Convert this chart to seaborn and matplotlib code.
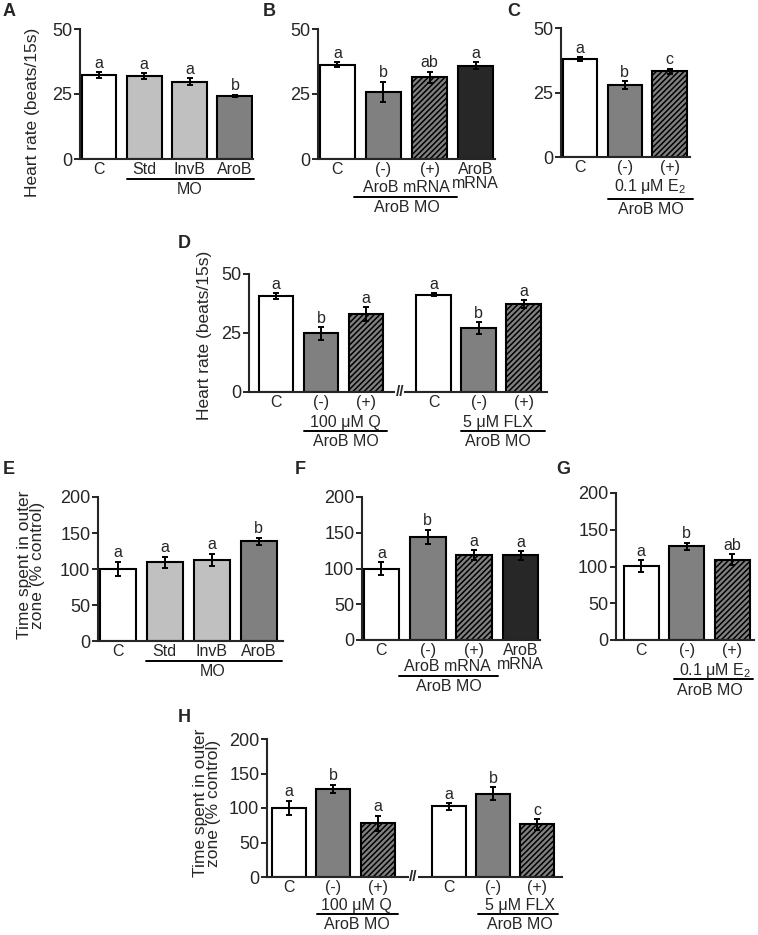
import numpy as np
import pandas as pd
import matplotlib
matplotlib.use('Agg')
import matplotlib.pyplot as plt
import seaborn as sns

sns.set_style('ticks')
plt.rcParams['font.family'] = ['Liberation Sans', 'DejaVu Sans']
plt.rcParams['mathtext.fontset'] = 'custom'
plt.rcParams['mathtext.rm'] = 'Liberation Sans'
plt.rcParams['mathtext.it'] = 'Liberation Sans:italic'
plt.rcParams['hatch.linewidth'] = 1.1
plt.rcParams['hatch.color'] = 'black'

# ---- data ----
a_labels = ['C', 'Std', 'InvB', 'AroB']
a_vals = [32.3, 31.8, 29.8, 24.3]
a_err = [1.2, 1.2, 1.3, 0.5]
a_sig = ['a', 'a', 'a', 'b']

b_labels = ['C', '(-)', '(+)', 'AroB\nmRNA']
b_vals = [36.2, 25.8, 31.4, 35.9]
b_err = [1.0, 4.0, 2.2, 1.3]
b_sig = ['a', 'b', 'ab', 'a']

c_labels = ['C', '(-)', '(+)']
c_vals = [38.1, 27.8, 33.3]
c_err = [0.7, 1.6, 1.0]
c_sig = ['a', 'b', 'c']

d_labels = ['C', '(-)', '(+)', 'C', '(-)', '(+)']
d_vals = [40.6, 24.8, 33.1, 41.3, 27.0, 37.1]
d_err = [1.2, 2.6, 3.0, 0.6, 2.5, 1.7]
d_sig = ['a', 'b', 'a', 'a', 'b', 'a']

e_labels = ['C', 'Std', 'InvB', 'AroB']
e_vals = [100, 109.3, 112.5, 138.6]
e_err = [10, 8, 9, 5]
e_sig = ['a', 'a', 'a', 'b']

f_labels = ['C', '(-)', '(+)', 'AroB\nmRNA']
f_vals = [100, 144.5, 118.5, 118.5]
f_err = [9, 10, 7, 6]
f_sig = ['a', 'b', 'a', 'a']

g_labels = ['C', '(-)', '(+)']
g_vals = [100.5, 127.5, 109.5]
g_err = [8, 5, 7]
g_sig = ['a', 'b', 'ab']

h_labels = ['C', '(-)', '(+)', 'C', '(-)', '(+)']
h_vals = [100.5, 127.7, 77.7, 102.4, 120.9, 76.2]
h_err = [10, 6, 11, 5, 9, 8]
h_sig = ['a', 'b', 'a', 'a', 'b', 'c']

# ---- styles ----
STYLE = {'w': ('#ffffff', ''), 'l': ('#c0c0c0', ''), 'm': ('#808080', ''),
         'k': ('#272727', ''), 'h': ('#808080', '//////')}
FS = 11.5

W, H = 758, 935
fig = plt.figure(figsize=(W / 100, H / 100), dpi=100)


def panel(box, xpos, labels, vals, errs, sig, kinds, ymax, ystep, xlim):
    l, r, t, b = box
    ax = fig.add_axes([l / W, 1 - b / H, (r - l) / W, (b - t) / H])
    df = pd.DataFrame({'x': xpos, 'y': vals, 'k': [str(i) for i in range(len(vals))]})
    pal = {str(i): STYLE[k][0] for i, k in enumerate(kinds)}
    sns.barplot(data=df, x='x', y='y', hue='k', palette=pal, native_scale=True,
                dodge=False, width=0.77, errorbar=None, saturation=1,
                edgecolor='black', linewidth=1.5, legend=False, ax=ax)
    for p, k in zip(ax.patches, kinds):
        p.set_hatch(STYLE[k][1])
    ax.errorbar(xpos, vals, yerr=errs, fmt='none', ecolor='black',
                elinewidth=1.4, capsize=2, capthick=1.4, zorder=5)
    for x, v, e, s in zip(xpos, vals, errs, sig):
        ax.text(x, v + e + ymax * 0.01, s, ha='center', va='bottom', fontsize=FS)
    ax.set_ylim(0, ymax)
    ax.set_yticks(np.arange(0, ymax + 1, ystep))
    ax.set_xlim(*xlim)
    ax.set_xticks(xpos)
    ax.set_xticklabels(labels, linespacing=0.95)
    ax.set_xlabel('')
    ax.set_ylabel('')
    sns.despine(ax=ax)
    for sp in ['left', 'bottom']:
        ax.spines[sp].set_linewidth(1.5)
    ax.tick_params(axis='y', length=4, width=1.4, labelsize=13, pad=1.5)
    ax.tick_params(axis='x', length=0, labelsize=FS, pad=2)
    return ax, box


def yfrac(box, ypx):
    return (box[3] - ypx) / (box[3] - box[2])


def group(axb, texts, lines):
    ax, box = axb
    tr = ax.get_xaxis_transform()
    for x, y, s in texts:
        ax.text(x, yfrac(box, y + 1.5), s, transform=tr, ha='center', va='center', fontsize=FS)
    for x0, x1, y in lines:
        ax.plot([x0, x1], [yfrac(box, y)] * 2, transform=tr, color='black',
                lw=1.4, clip_on=False)


def brk(axb, x):
    ax, box = axb
    ax.text(x, 0, '//', transform=ax.get_xaxis_transform(), ha='center', va='center',
            fontsize=11, fontweight='bold', zorder=10, clip_on=False,
            bbox=dict(facecolor='white', edgecolor='none', pad=0.2))


x3 = [0, 1, 2]
x4 = [0, 1, 2, 3]
xd = [0, 1, 2, 3.5, 4.5, 5.5]
xh = [0, 1, 2, 3.6, 4.6, 5.6]

pa = panel((80, 253, 29, 159), x4, a_labels, a_vals, a_err, a_sig, 'wllm', 50, 25, (-0.42, 3.4))
group(pa, [(2.0, 188, 'MO')], [(0.62, 3.42, 179)])

pb = panel((318, 495, 29, 159), x4, b_labels, b_vals, b_err, b_sig, 'wmhk', 50, 25, (-0.42, 3.42))
group(pb, [(1.5, 186, 'AroB mRNA'), (1.5, 206, 'AroB MO')], [(0.36, 2.6, 197)])

pc = panel((561, 690, 28, 157), x3, c_labels, c_vals, c_err, c_sig, 'wmh', 50, 25, (-0.42, 2.45))
group(pc, [(1.57, 185, '0.1 μM E$_2$'), (1.57, 208, 'AroB MO')], [(0.63, 2.52, 199)])

pd_ = panel((249, 547, 274, 392), xd, d_labels, d_vals, d_err, d_sig, 'wmhwmh', 50, 25, (-0.6, 6.02))
group(pd_, [(1.55, 421, '100 μM Q'), (1.55, 440, 'AroB MO'),
            (4.93, 421, '5 μM FLX'), (4.93, 440, 'AroB MO')],
      [(0.63, 2.47, 431), (4.11, 5.98, 431)])
brk(pd_, 2.75)

pe = panel((98, 283, 497, 641), x4, e_labels, e_vals, e_err, e_sig, 'wllm', 200, 50, (-0.42, 3.52))
group(pe, [(2.03, 670, 'MO')], [(0.61, 3.5, 661)])

pf = panel((362, 540, 497, 640), x4, f_labels, f_vals, f_err, f_sig, 'wmhk', 200, 50, (-0.42, 3.42))
group(pf, [(1.42, 665, 'AroB mRNA'), (1.45, 685, 'AroB MO')], [(0.38, 2.52, 676)])

pg = panel((616, 754, 493, 640), x3, g_labels, g_vals, g_err, g_sig, 'wmh', 200, 50, (-0.55, 2.48))
group(pg, [(1.63, 669, '0.1 μM E$_2$'), (1.52, 689, 'AroB MO')], [(0.72, 2.45, 679)])

ph = panel((267, 562, 739, 877), xh, h_labels, h_vals, h_err, h_sig, 'wmhwmh', 200, 50, (-0.5, 6.16))
group(ph, [(1.52, 904, '100 μM Q'), (1.52, 923, 'AroB MO'),
           (5.2, 904, '5 μM FLX'), (5.2, 923, 'AroB MO')],
      [(0.64, 2.45, 914), (4.27, 6.08, 914)])
brk(ph, 2.8)

# axis titles
yl = 'Heart rate (beats/15s)'
fig.text(33 / W, 1 - 112 / H, yl, rotation=90, ha='center', va='center', fontsize=12.5)
fig.text(205 / W, 1 - 335 / H, yl, rotation=90, ha='center', va='center', fontsize=12.5)
tl = 'Time spent in outer\nzone (% control)'
fig.text(31 / W, 1 - 565 / H, tl, rotation=90, ha='center', va='center', fontsize=12.5,
         linespacing=0.85, multialignment='center')
fig.text(207 / W, 1 - 803 / H, tl, rotation=90, ha='center', va='center', fontsize=12.5,
         linespacing=0.85, multialignment='center')

# panel letters
for s, x, y in [('A', 3, 12), ('B', 263, 12), ('C', 507, 12), ('D', 178, 243),
                ('E', 3, 470), ('F', 295, 470), ('G', 556, 470), ('H', 178, 718)]:
    fig.text(x / W, 1 - y / H, s, fontsize=13, fontweight='bold', ha='left', va='center')

fig.savefig('out.png', dpi=100)
